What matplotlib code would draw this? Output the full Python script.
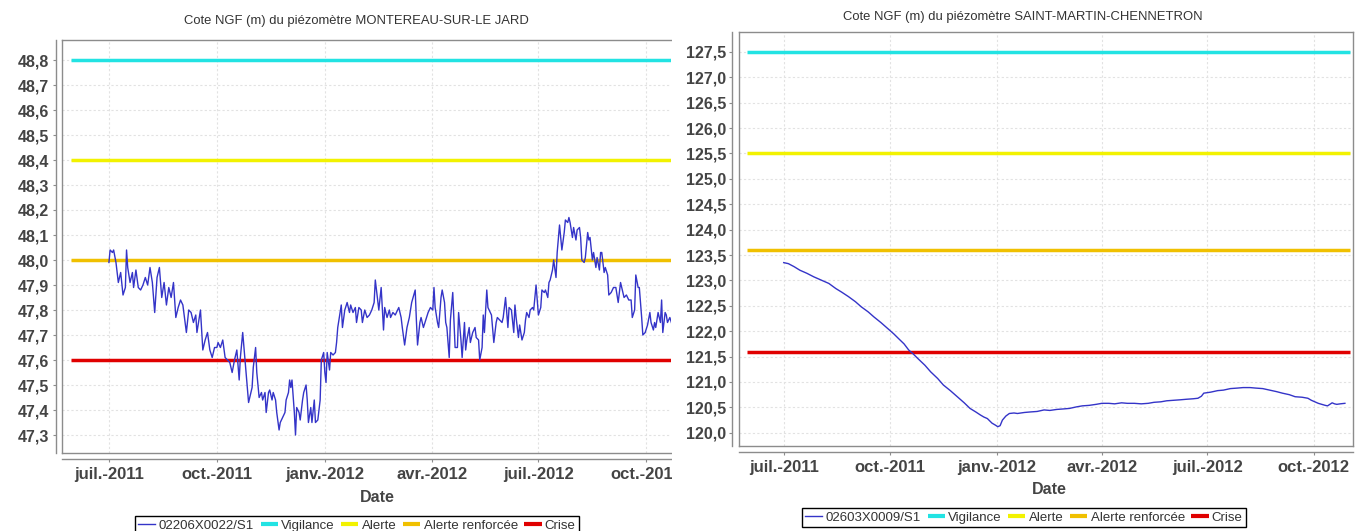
import numpy as np
import matplotlib
matplotlib.use("Agg")
import matplotlib.pyplot as plt
import matplotlib.dates as mdates
from matplotlib.lines import Line2D
from matplotlib.patches import Rectangle
from matplotlib.ticker import FixedLocator, FuncFormatter

plt.rcParams['font.family'] = ['Liberation Sans', 'DejaVu Sans']

# all dates are day offsets from 1 July 2011
BASE = np.datetime64('2011-07-01')

# piezometer 02206X0022/S1 (MONTEREAU-SUR-LE JARD)
left_days = [
    0, 1, 3, 4, 6, 8, 10, 12, 14, 15, 16, 18, 20, 21, 23, 25, 27, 29, 31, 33,
    35, 37, 39, 41, 43, 45, 47, 49, 51, 53, 55, 57, 59, 61, 63, 66, 68, 70, 72, 74,
    75, 78, 80, 82, 84, 86, 88, 90, 92, 93, 95, 97, 99, 101, 103, 105, 107, 109, 111, 112,
    114, 116, 119, 122, 123, 125, 126, 128, 130, 131, 133, 134, 136, 137, 139, 140, 142, 143, 145, 146,
    148, 150, 151, 153, 154, 155, 156, 158, 159, 160, 162, 163, 165, 166, 168, 169, 170, 172, 173, 175,
    176, 178, 180, 181, 183, 184, 185, 186, 188, 189, 191, 193, 194, 195, 197, 198, 199, 201, 203, 205,
    206, 208, 210, 211, 213, 215, 216, 218, 220, 222, 224, 226, 227, 229, 230, 232, 234, 235, 237, 239,
    240, 242, 244, 246, 247, 249, 250, 252, 254, 256, 258, 261, 262, 263, 265, 266, 268, 270, 272, 274,
    276, 277, 278, 280, 281, 283, 284, 286, 287, 288, 290, 291, 293, 294, 295, 297, 298, 300, 301, 303,
    304, 305, 307, 308, 310, 312, 313, 315, 316, 318, 319, 320, 322, 323, 324, 326, 328, 330, 331, 333,
    335, 336, 338, 339, 340, 341, 343, 345, 346, 347, 349, 350, 352, 354, 355, 356, 358, 359, 361, 362,
    364, 365, 366, 368, 369, 371, 372, 374, 375, 376, 378, 379, 381, 382, 384, 385, 386, 388, 389, 391,
    392, 393, 395, 396, 398, 399, 401, 402, 403, 405, 406, 408, 409, 410, 412, 413, 415, 416, 418, 419,
    420, 422, 423, 425, 426, 428, 430, 432, 434, 436, 437, 439, 441, 443, 445, 446, 448, 449, 451, 452,
    454, 455, 457, 459, 461, 462, 464, 465, 466, 468, 470, 471, 472, 474, 475, 476, 478, 480,
]
left_level = [
    47.99, 48.04, 48.03, 48.04, 47.99, 47.91, 47.95, 47.86, 47.89, 48.04, 47.97, 47.91, 47.95, 47.89, 47.96, 47.89, 47.88, 47.90, 47.93, 47.90,
    47.97, 47.91, 47.79, 47.93, 47.97, 47.85, 47.91, 47.82, 47.89, 47.85, 47.91, 47.77, 47.81, 47.84, 47.82, 47.71, 47.80, 47.79, 47.75, 47.78,
    47.71, 47.80, 47.64, 47.68, 47.71, 47.64, 47.61, 47.65, 47.65, 47.67, 47.65, 47.68, 47.61, 47.60, 47.59, 47.55, 47.60, 47.64, 47.52, 47.61,
    47.71, 47.60, 47.43, 47.49, 47.57, 47.65, 47.55, 47.45, 47.47, 47.44, 47.47, 47.39, 47.47, 47.48, 47.44, 47.47, 47.44, 47.39, 47.32, 47.35,
    47.37, 47.39, 47.44, 47.47, 47.52, 47.49, 47.52, 47.39, 47.30, 47.41, 47.39, 47.36, 47.44, 47.47, 47.50, 47.44, 47.35, 47.41, 47.35, 47.44,
    47.35, 47.36, 47.44, 47.60, 47.63, 47.55, 47.51, 47.63, 47.56, 47.63, 47.62, 47.63, 47.67, 47.73, 47.79, 47.82, 47.73, 47.80, 47.83, 47.79,
    47.82, 47.79, 47.81, 47.75, 47.81, 47.80, 47.75, 47.80, 47.77, 47.78, 47.80, 47.83, 47.92, 47.84, 47.80, 47.89, 47.72, 47.81, 47.77, 47.80,
    47.77, 47.79, 47.78, 47.80, 47.81, 47.77, 47.73, 47.66, 47.73, 47.77, 47.83, 47.88, 47.76, 47.66, 47.75, 47.77, 47.73, 47.76, 47.79, 47.81,
    47.80, 47.89, 47.81, 47.75, 47.73, 47.85, 47.88, 47.83, 47.75, 47.73, 47.61, 47.76, 47.87, 47.76, 47.65, 47.65, 47.79, 47.68, 47.61, 47.75,
    47.64, 47.68, 47.73, 47.67, 47.71, 47.73, 47.69, 47.68, 47.60, 47.65, 47.78, 47.71, 47.88, 47.81, 47.80, 47.78, 47.67, 47.75, 47.77, 47.76,
    47.75, 47.77, 47.85, 47.79, 47.73, 47.81, 47.80, 47.71, 47.82, 47.77, 47.69, 47.74, 47.68, 47.71, 47.76, 47.79, 47.77, 47.80, 47.81, 47.80,
    47.90, 47.84, 47.78, 47.81, 47.88, 47.87, 47.88, 47.85, 47.91, 47.92, 47.96, 48.00, 47.93, 48.03, 48.14, 48.09, 48.04, 48.11, 48.16, 48.15,
    48.17, 48.15, 48.09, 48.13, 48.08, 48.12, 48.13, 48.09, 48.00, 47.99, 48.01, 48.11, 48.08, 48.09, 48.00, 48.03, 47.97, 48.01, 47.96, 48.03,
    48.03, 47.95, 47.97, 47.94, 47.86, 47.87, 47.89, 47.89, 47.83, 47.91, 47.89, 47.85, 47.86, 47.84, 47.84, 47.77, 47.80, 47.94, 47.89, 47.89,
    47.77, 47.70, 47.71, 47.74, 47.79, 47.75, 47.72, 47.75, 47.73, 47.79, 47.75, 47.84, 47.71, 47.79, 47.78, 47.75, 47.77, 47.74,
]

# piezometer 02603X0009/S1 (SAINT-MARTIN-CHENNETRON)
right_days = [
    0, 4, 9, 14, 20, 26, 32, 39, 45, 50, 56, 62, 67, 73, 78, 84, 90, 95, 99, 104,
    108, 112, 116, 122, 127, 133, 138, 144, 150, 156, 161, 166, 170, 173, 176, 180, 183, 185, 187, 189,
    192, 195, 199, 202, 208, 213, 219, 225, 230, 236, 242, 247, 253, 258, 264, 270, 275, 281, 286, 292,
    297, 303, 309, 315, 320, 326, 331, 337, 343, 348, 354, 358, 361, 363, 369, 375, 380, 386, 392, 397,
    403, 408, 414, 420, 426, 431, 437, 442, 448, 453, 456, 459, 462, 465, 468, 470, 472, 474, 476, 478,
    481, 485,
]
right_level = [
    123.35, 123.33, 123.27, 123.20, 123.14, 123.07, 123.01, 122.94, 122.84, 122.77, 122.68, 122.58, 122.48, 122.38, 122.28, 122.17, 122.05, 121.95, 121.86, 121.75,
    121.63, 121.55, 121.46, 121.33, 121.20, 121.07, 120.94, 120.83, 120.71, 120.59, 120.48, 120.41, 120.35, 120.31, 120.28, 120.19, 120.15, 120.12, 120.14, 120.25,
    120.33, 120.38, 120.39, 120.38, 120.40, 120.41, 120.42, 120.45, 120.44, 120.46, 120.47, 120.48, 120.51, 120.53, 120.54, 120.56, 120.58, 120.58, 120.57, 120.59,
    120.58, 120.58, 120.57, 120.58, 120.60, 120.61, 120.63, 120.64, 120.65, 120.66, 120.67, 120.68, 120.72, 120.78, 120.80, 120.83, 120.84, 120.87, 120.88, 120.89,
    120.89, 120.88, 120.87, 120.84, 120.81, 120.78, 120.75, 120.71, 120.70, 120.68, 120.64, 120.61, 120.58, 120.56, 120.54, 120.53, 120.56, 120.59, 120.57, 120.56,
    120.57, 120.58,
]

left_thresholds = [48.8, 48.4, 48.0, 47.6]
right_thresholds = [127.5, 125.5, 123.6, 121.6]
threshold_names = ['Vigilance', 'Alerte', 'Alerte renforcée', 'Crise']
threshold_colors = ['#22e3e3', '#f2f200', '#f0c000', '#e00000']
threshold_span = [-32, 489]

left_yticks = [47.3, 47.4, 47.5, 47.6, 47.7, 47.8, 47.9, 48.0, 48.1, 48.2, 48.3, 48.4, 48.5, 48.6, 48.7, 48.8]
right_yticks = [120.0, 120.5, 121.0, 121.5, 122.0, 122.5, 123.0, 123.5, 124.0, 124.5,
                125.0, 125.5, 126.0, 126.5, 127.0, 127.5]

MOIS = {1: 'janv.', 4: 'avr.', 7: 'juil.', 10: 'oct.'}

SERIES_COLOR = '#3434c8'
AXIS_GRAY = '#8c8c8c'
LABEL_GRAY = '#444444'

W, H = 1355, 531


def to_dates(days):
    return BASE + np.array(days, dtype='timedelta64[D]')


def fmt_date(x, pos):
    d = mdates.num2date(x)
    return f"{MOIS.get(d.month, '')}-{d.year}"


def fmt_level(v, pos):
    return f"{v:.1f}".replace('.', ',')


def draw_panel(ax, days, level, thresholds, yticks, xlim, ylim, cut_right=False):
    # threshold lines first, measured series on top
    span = to_dates(threshold_span)
    for val, col in zip(thresholds, threshold_colors):
        ax.plot(span, [val, val], color=col, lw=2.5, solid_capstyle='butt', zorder=2)
    ax.plot(to_dates(days), level, color=SERIES_COLOR, lw=1.0, zorder=3)

    ax.set_xlim(BASE + np.timedelta64(xlim[0], 'D'), BASE + np.timedelta64(xlim[1], 'D'))
    ax.set_ylim(*ylim)

    ax.xaxis.set_major_locator(mdates.MonthLocator(bymonth=[1, 4, 7, 10]))
    ax.xaxis.set_major_formatter(FuncFormatter(fmt_date))
    ax.yaxis.set_major_locator(FixedLocator(yticks))
    ax.yaxis.set_major_formatter(FuncFormatter(fmt_level))

    ax.grid(True, color='#e2e2e2', lw=0.8, ls=(0, (2, 2)), zorder=0)
    ax.set_axisbelow(True)

    # JFreeChart style: axis lines set apart from the plot frame
    for side in ['left', 'bottom']:
        ax.spines[side].set_position(('outward', 4.5))
        ax.spines[side].set_color(AXIS_GRAY)
        ax.spines[side].set_linewidth(1.0)
    ax.spines['top'].set_visible(False)
    ax.spines['right'].set_visible(False)

    frame = [([0, 1], [1, 1]), ([0, 0], [0, 1]), ([0, 1], [0, 0])]
    if not cut_right:
        frame.append(([1, 1], [0, 1]))
    for xs, ys in frame:
        ax.add_line(Line2D(xs, ys, transform=ax.transAxes, color=AXIS_GRAY,
                           lw=1.0, clip_on=False, zorder=5))

    ax.tick_params(axis='both', direction='out', length=2.5, width=0.8,
                   color=AXIS_GRAY, labelcolor=LABEL_GRAY)
    ax.tick_params(axis='y', labelsize=11.5, pad=2)
    ax.tick_params(axis='x', labelsize=12, pad=3)
    for lab in ax.get_xticklabels() + ax.get_yticklabels():
        lab.set_fontweight('bold')

    ax.set_xlabel('Date', fontsize=11.5, fontweight='bold', color=LABEL_GRAY)
    ax.xaxis.label.set_va('center')


fig = plt.figure(figsize=(W / 100, H / 100), dpi=100)

# left chart (cut at the right edge like the reference)
ax1 = fig.add_axes([62 / W, (H - 453) / H, (671 - 62) / W, 413 / H])
draw_panel(ax1, left_days, left_level, left_thresholds, left_yticks,
           (-40, 479), (47.228, 48.88), cut_right=True)
ax1.xaxis.set_label_coords((377 - 62) / (671 - 62), (453 - 497) / 413)
fig.text(356 / W, 1 - 21 / H, 'Cote NGF (m) du piézomètre MONTEREAU-SUR-LE JARD',
         ha='center', va='center', fontsize=9.4, color='#333333')

# white strip hides what spills out of the cut left chart
fig.patches.append(Rectangle((672 / W, 0), 13 / W, 1, transform=fig.transFigure,
                             facecolor='white', edgecolor='none', zorder=1))

# right chart
ax2 = fig.add_axes([738.6 / W, (H - 446) / H, (1353 - 738.6) / W, 414 / H])
ax2.set_zorder(2)
draw_panel(ax2, right_days, right_level, right_thresholds, right_yticks,
           (-39, 492), (119.74, 127.89))
ax2.xaxis.set_label_coords((1049 - 738.6) / (1353 - 738.6), (446 - 490) / 414)
fig.text(1023 / W, 1 - 17 / H, 'Cote NGF (m) du piézomètre SAINT-MARTIN-CHENNETRON',
         ha='center', va='center', fontsize=9.4, color='#333333')


def add_legend(series_name, cx, top):
    handles = [Line2D([], [], color=SERIES_COLOR, lw=1.0)]
    handles += [Line2D([], [], color=c, lw=3.0, solid_capstyle='butt') for c in threshold_colors]
    leg = fig.legend(handles, [series_name] + threshold_names, loc='upper center',
                     bbox_to_anchor=(cx / W, 1 - top / H), ncol=5, fontsize=9.5,
                     frameon=True, fancybox=False, edgecolor='black', framealpha=1,
                     handlelength=1.3, handletextpad=0.25, columnspacing=0.5,
                     borderpad=0.25, borderaxespad=0)
    leg.get_frame().set_linewidth(1.0)
    leg.set_zorder(3)
    for t in leg.get_texts():
        t.set_color('#333333')


add_legend('02206X0022/S1', 357, 516)
add_legend('02603X0009/S1', 1024, 508)

fig.savefig('out.png', dpi=100)
